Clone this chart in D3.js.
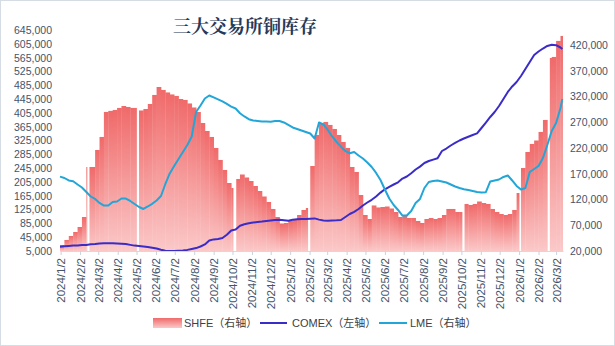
<!DOCTYPE html>
<html>
<head>
<meta charset="utf-8">
<script src="https://cdn.jsdelivr.net/npm/d3@7"></script>
<style>
  html, body { margin: 0; padding: 0; background: #ffffff; }
  svg { display: block; }
</style>
</head>
<body>
<svg id="chart" width="615" height="346"></svg>
<script>
// ---- Data -------------------------------------------------------------
// Week start (Monday) of the first weekly SHFE reading and the axis span
const firstWeek = "2024-01-01";
const lastWeekStop = "2026-03-10";
const axisStart = "2024-01-01";
const axisEnd = "2026-03-13";
const lineEndDate = "2026-03-12";

// SHFE copper stocks, tonnes, one value per week (right axis)
const shfe = [
  31700, 41400, 49100, 56900, 66600, 86000, 183100, 183100, 216100, 241400,
  289900, 292000, 293800, 297700, 301500, 299600, 297700, 297700, 292800, 295700,
  305400, 322900, 338400, 332600, 327800, 323900, 321000, 315100, 313200, 306400,
  298600, 289900, 268500, 253000, 241400, 220000, 196700, 177300, 152000, 142300,
  159800, 168500, 162700, 155900, 146200, 136500, 125800, 115100, 101600, 86000,
  73400, 74400, 78300, 82100, 89900, 99600, 103500, 185000, 245200, 268500,
  270500, 264700, 256900, 245200, 231600, 220000, 183100, 173400, 128700, 89900,
  82100, 108400, 104500, 105400, 106400, 102500, 95700, 86000, 88000, 84100,
  84100, 78300, 74400, 82100, 84100, 82100, 84100, 89900, 101600, 101600,
  95700, 95700, 111300, 109300, 111300, 116100, 113200, 111300, 101600, 95700,
  91800, 89900, 91800, 99600, 132600, 181100, 212200, 227800, 234500, 251100,
  274400, 394700, 396700, 427800, 437500
];

// COMEX copper stocks (left axis), sampled each Monday plus the last day
const comex = [
  17500, 18600, 19500, 20600, 21200, 22100, 22700, 24400, 25300, 26700,
  27300, 27300, 27300, 27000, 26100, 25000, 22700, 20600, 19200, 17700,
  16300, 14300, 12000, 8800, 5900, 5300, 5000, 5600, 6400, 8200,
  10800, 13400, 18000, 24100, 35400, 38600, 39500, 42600, 51900, 64400,
  67300, 78000, 82300, 85500, 87200, 88700, 90100, 91900, 93300, 94800,
  95600, 94200, 92700, 95400, 97100, 97700, 97700, 98500, 99400, 95900,
  93600, 92700, 93300, 93900, 94800, 103500, 112200, 118500, 126600, 136800,
  145500, 153300, 162800, 174100, 183700, 190900, 197600, 204000, 214700, 220800,
  230300, 241000, 249400, 259800, 265600, 269700, 273700, 294600, 301800, 310500,
  317800, 325000, 330800, 335700, 340900, 345600, 361200, 377100, 393100, 407500,
  424900, 445200, 465500, 481400, 494400, 511800, 532100, 552300, 572600, 582800,
  591400, 598700, 602400, 601000, 594300, 590000
];

// LME copper stocks (right axis), sampled each Monday plus the last day
const lme = [
  164300, 161700, 156900, 155300, 149100, 143300, 134600, 125800, 121000, 113200,
  108300, 108300, 115100, 116100, 121900, 121900, 117100, 111300, 105400, 101600,
  106400, 111600, 118100, 126800, 150100, 170500, 185000, 198600, 212200, 225800,
  242300, 289900, 302500, 316100, 321900, 318100, 314200, 310300, 305400, 300200,
  296700, 287400, 281200, 275900, 273400, 272400, 271500, 271300, 271100, 272400,
  272400, 269500, 264700, 259800, 256900, 254000, 251100, 248100, 238400, 269500,
  265600, 254900, 242300, 231600, 222500, 214200, 209700, 212200, 205400, 199600,
  191800, 183100, 171500, 157900, 139400, 121900, 109300, 99600, 88900, 88900,
  97700, 113200, 121000, 142300, 154000, 155900, 156900, 155000, 153000, 149100,
  145200, 142300, 140000, 138400, 136500, 134600, 133600, 134200, 155000, 156900,
  158800, 163700, 166600, 156900, 146200, 139400, 142300, 173400, 179200, 185000,
  200600, 225800, 253000, 268500, 297700, 315100
];

// Exchange holidays with no SHFE reading
const holidayGaps = [
  ["2024-02-13", "2024-02-17"],
  ["2024-05-02", "2024-05-06"],
  ["2024-10-03", "2024-10-08"],
  ["2025-01-30", "2025-02-03"],
  ["2025-10-03", "2025-10-07"],
  ["2026-01-02", "2026-01-05"],
  ["2026-02-16", "2026-02-20"]
];

const xTickLabels = [
  "2024/1/2", "2024/2/2", "2024/3/2", "2024/4/2", "2024/5/2", "2024/6/2",
  "2024/7/2", "2024/8/2", "2024/9/2", "2024/10/2", "2024/11/2", "2024/12/2",
  "2025/1/2", "2025/2/2", "2025/3/2", "2025/4/2", "2025/5/2", "2025/6/2",
  "2025/7/2", "2025/8/2", "2025/9/2", "2025/10/2", "2025/11/2", "2025/12/2",
  "2026/1/2", "2026/2/2", "2026/3/2"
];
const leftTicks = [5000, 45000, 85000, 125000, 165000, 205000, 245000, 285000,
  325000, 365000, 405000, 445000, 485000, 525000, 565000, 605000, 645000];
const rightTicks = [20000, 70000, 120000, 170000, 220000, 270000, 320000, 370000, 420000];

// ---- Layout & scales --------------------------------------------------
const parse = d3.timeParse("%Y-%m-%d");
const parseTick = d3.timeParse("%Y/%m/%d");
const plot = { left: 60, right: 563, top: 30, bottom: 251 };

const weekDates = d3.timeMonday.range(parse(firstWeek), parse(lastWeekStop));
const lineDates = weekDates.concat([parse(lineEndDate)]);

const x = d3.scaleTime()
  .domain([parse(axisStart), parse(axisEnd)])
  .range([plot.left, plot.right]);
const yL = d3.scaleLinear().domain([5000, 645000]).range([plot.bottom, plot.top]);
const yR = d3.scaleLinear().domain([20000, 449000]).range([plot.bottom, plot.top]);

const svg = d3.select("#chart");
const tickFont = "'Liberation Sans', 'Noto Sans CJK SC', sans-serif";
const axisColor = "#44546a";

svg.append("rect")
  .attr("x", 0.5).attr("y", 0.5)
  .attr("width", 614).attr("height", 345)
  .attr("fill", "#ffffff")
  .attr("stroke", "#d6dce4");

const defs = svg.append("defs");
const grad = defs.append("linearGradient")
  .attr("id", "shfeFill")
  .attr("x1", 0).attr("y1", 0).attr("x2", 0).attr("y2", 1);
grad.append("stop").attr("offset", "0%").attr("stop-color", "#f06a6a");
grad.append("stop").attr("offset", "100%").attr("stop-color", "#fbc8c8");

// ---- SHFE columns (weekly steps, split around holidays) ---------------
const gapPx = holidayGaps.map(([a, b]) => [x(parse(a)), x(parse(b))]);
const segments = [];
shfe.forEach((v, i) => {
  const x0 = x(weekDates[i]);
  const x1 = i + 1 < weekDates.length ? x(weekDates[i + 1]) : plot.right;
  let parts = [[x0, Math.min(x1, plot.right)]];
  gapPx.forEach(([g0, g1]) => {
    parts = parts.flatMap(([a, b]) => {
      if (g1 <= a || g0 >= b) return [[a, b]];
      const out = [];
      if (g0 > a) out.push([a, g0]);
      if (g1 < b) out.push([g1, b]);
      return out;
    });
  });
  parts.forEach(([a, b]) => segments.push({ a, b, v }));
});

// a slight overlap keeps neighbouring weeks from leaving hairline seams
const seam = 0.35;
svg.append("g")
  .selectAll("rect")
  .data(segments)
  .join("rect")
  .attr("x", d => d.a)
  .attr("width", d => Math.max(0, Math.min(d.b + seam, plot.right) - d.a))
  .attr("y", d => yR(d.v))
  .attr("height", d => plot.bottom - yR(d.v))
  .attr("fill", "url(#shfeFill)");

// ---- Lines -------------------------------------------------------------
const comexLine = d3.line()
  .x((d, i) => x(lineDates[i]))
  .y(d => yL(d));
const lmeLine = d3.line()
  .x((d, i) => x(lineDates[i]))
  .y(d => yR(d));

svg.append("path")
  .datum(comex)
  .attr("d", comexLine)
  .attr("fill", "none")
  .attr("stroke", "#3a2cc8")
  .attr("stroke-width", 2)
  .attr("stroke-linejoin", "round");

svg.append("path")
  .datum(lme)
  .attr("d", lmeLine)
  .attr("fill", "none")
  .attr("stroke", "#22a6d8")
  .attr("stroke-width", 2)
  .attr("stroke-linejoin", "round");

// ---- Axes --------------------------------------------------------------
const xAxis = d3.axisBottom(x)
  .tickValues(xTickLabels.map(s => parseTick(s)))
  .tickFormat((d, i) => xTickLabels[i])
  .tickSize(4)
  .tickSizeOuter(0);

const gx = svg.append("g")
  .attr("transform", `translate(0,${plot.bottom})`)
  .call(xAxis);
gx.select(".domain").attr("stroke", "#d9d9d9");
gx.selectAll(".tick line").attr("stroke", "#c9d3de");
gx.selectAll(".tick text")
  .attr("transform", "rotate(-90)")
  .attr("x", -7)
  .attr("y", 0)
  .attr("dy", "0.35em")
  .attr("text-anchor", "end")
  .attr("fill", axisColor)
  .style("font-family", tickFont)
  .style("font-size", "11.5px");

const gl = svg.append("g")
  .attr("transform", `translate(${plot.left},0)`)
  .call(d3.axisLeft(yL).tickValues(leftTicks).tickFormat(d3.format(",")).tickSize(0).tickPadding(8));
gl.select(".domain").remove();
gl.selectAll(".tick text")
  .attr("fill", axisColor)
  .style("font-family", tickFont)
  .style("font-size", "10.5px");

const gr = svg.append("g")
  .attr("transform", `translate(${plot.right},0)`)
  .call(d3.axisRight(yR).tickValues(rightTicks).tickFormat(d3.format(",")).tickSize(0).tickPadding(7));
gr.select(".domain").remove();
gr.selectAll(".tick text")
  .attr("fill", axisColor)
  .style("font-family", tickFont)
  .style("font-size", "10.5px");

// ---- Title -------------------------------------------------------------
svg.append("text")
  .attr("x", 245)
  .attr("y", 33)
  .attr("text-anchor", "middle")
  .attr("fill", "#263959")
  .style("font-family", "'Noto Serif CJK SC', 'Noto Sans CJK SC', serif")
  .style("font-size", "18px")
  .style("font-weight", "bold")
  .text("三大交易所铜库存");

// ---- Legend ------------------------------------------------------------
const legend = svg.append("g")
  .style("font-family", tickFont)
  .style("font-size", "11px")
  .attr("fill", "#404040");

legend.append("rect")
  .attr("x", 153).attr("y", 318).attr("width", 29).attr("height", 10)
  .attr("fill", "url(#shfeFill)");
legend.append("text").attr("x", 184).attr("y", 327).text("SHFE（右轴）");

legend.append("line")
  .attr("x1", 260).attr("x2", 287).attr("y1", 323).attr("y2", 323)
  .attr("stroke", "#3a2cc8").attr("stroke-width", 2);
legend.append("text").attr("x", 292).attr("y", 327).text("COMEX（左轴）");

legend.append("line")
  .attr("x1", 379).attr("x2", 407).attr("y1", 323).attr("y2", 323)
  .attr("stroke", "#22a6d8").attr("stroke-width", 2);
legend.append("text").attr("x", 410).attr("y", 327).text("LME（右轴）");
</script>
</body>
</html>
